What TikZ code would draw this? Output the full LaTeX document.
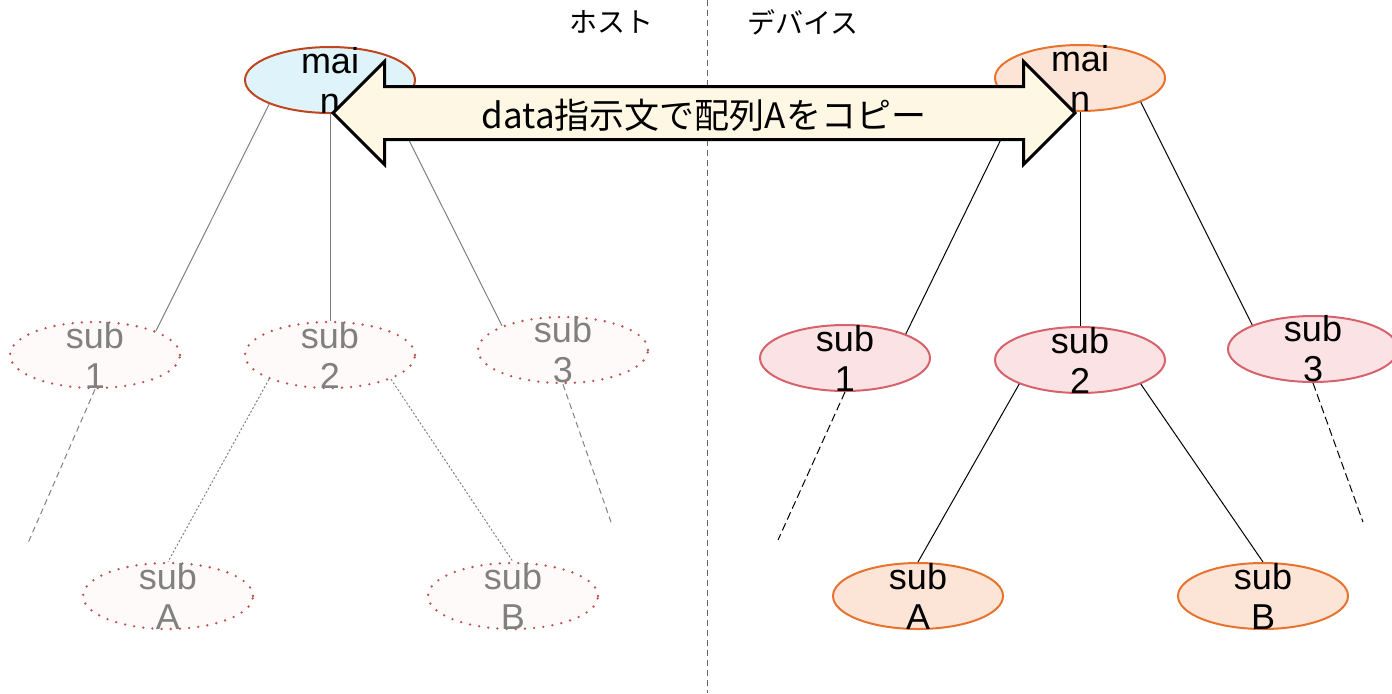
\documentclass[tikz,border=0pt]{standalone}
\usepackage{fontspec}
\setmainfont{Liberation Sans}
\newfontfamily\jpfont{Noto Sans CJK JP}
\usetikzlibrary{shapes.geometric,shapes.arrows}

\definecolor{hostrim}{HTML}{C0441E}
\definecolor{hostfill}{HTML}{DFF3FA}
\definecolor{devrim}{HTML}{E8732E}
\definecolor{devfill}{HTML}{FCE5D6}
\definecolor{subrim}{HTML}{D6636B}
\definecolor{subfill}{HTML}{FBE2E4}
\definecolor{dotrim}{HTML}{C0504D}
\definecolor{copyfill}{HTML}{FEF7E3}

\begin{document}
\begin{tikzpicture}[x=0.5pt,y=-0.5pt,
    bubble/.style={ellipse,minimum width=85pt,minimum height=33pt,inner sep=0pt,line width=1pt},
    txt/.style={align=center,inner sep=0pt,font=\fontsize{18pt}{20pt}\selectfont},
    greytxt/.style={txt,text=black!50},
    hostmain/.style={bubble,draw=hostrim,fill=hostfill},
    devmain/.style={bubble,draw=devrim,fill=devfill},
    devsub/.style={bubble,draw=subrim,fill=subfill},
    devleaf/.style={bubble,draw=devrim,fill=devfill},
    ghost/.style={bubble,draw=dotrim,fill=red!2,line width=1.3pt,dash pattern=on 0pt off 4.6pt,line cap=round},
    ghostlink/.style={black!50,line width=0.5pt},
    devlink/.style={black,line width=0.5pt}
]
\useasboundingbox (0,0) rectangle (1392,693);

% host / device divider
\draw[black!60,dash pattern=on 3pt off 2pt] (707,0) -- (707,693);
\node[font=\jpfont\fontsize{14pt}{16pt}\selectfont] (hostlbl) at (611,22) {ホスト};
\node[font=\jpfont\fontsize{14pt}{16pt}\selectfont] (devlbl) at (803,22) {デバイス};

% host side (not yet on the device)
\node[hostmain,label={[txt]center:mai\\n}] (hmain) at (330,80) {};
\node[ghost,label={[greytxt]center:sub\\1}] (hs1) at (95,355) {};
\node[ghost,label={[greytxt]center:sub\\2}] (hs2) at (330,355) {};
\node[ghost,label={[greytxt]center:sub\\3}] (hs3) at (563,350) {};
\node[ghost,label={[greytxt]center:sub\\A}] (hsA) at (168,596) {};
\node[ghost,label={[greytxt]center:sub\\B}] (hsB) at (513,596) {};
\coordinate (hs1end) at (28,543);
\coordinate (hs3end) at (612,525);

\draw[ghostlink] (hmain.south west) -- (hs1.north east);
\draw[ghostlink] (hmain.south) -- (hs2.north);
\draw[ghostlink] (hmain.south east) -- (hs3.north west);
\draw[ghostlink,dash pattern=on 3pt off 2pt] (hs1.south) -- (hs1end);
\draw[ghostlink,dash pattern=on 1pt off 1pt] (hs2.south west) -- (hsA.north);
\draw[ghostlink,dash pattern=on 1pt off 1pt] (hs2.south east) -- (hsB.north);
\draw[ghostlink,dash pattern=on 3pt off 2pt] (hs3.south) -- (hs3end);

% device side
\node[devmain,label={[txt]center:mai\\n}] (dmain) at (1080,78) {};
\node[devsub,label={[txt]center:sub\\1}] (ds1) at (845,358) {};
\node[devsub,label={[txt]center:sub\\2}] (ds2) at (1080,360) {};
\node[devsub,label={[txt]center:sub\\3}] (ds3) at (1313,349) {};
\node[devleaf,label={[txt]center:sub\\A}] (dsA) at (918,596) {};
\node[devleaf,label={[txt]center:sub\\B}] (dsB) at (1263,596) {};
\coordinate (ds1end) at (778,540);
\coordinate (ds3end) at (1363,522);

\draw[devlink] (dmain.south west) -- (ds1.north east);
\draw[devlink] (dmain.south) -- (ds2.north);
\draw[devlink] (dmain.south east) -- (ds3.north west);
\draw[devlink,dash pattern=on 4pt off 2pt] (ds1.south) -- (ds1end);
\draw[devlink] (ds2.south west) -- (dsA.north);
\draw[devlink] (ds2.south east) -- (dsB.north);
\draw[devlink,dash pattern=on 4pt off 2pt] (ds3.south) -- (ds3end);

% copy of array A between host and device
\node[double arrow,draw=black,line width=1.5pt,fill=copyfill,
      minimum height=371pt,minimum width=50pt,double arrow head extend=12.5pt,
      inner xsep=2pt,inner ysep=0pt,text height=20pt,text depth=5pt,
      font=\jpfont\fontsize{17.5pt}{19pt}\selectfont] (copy) at (704,113)
      {data指示文で配列Aをコピー};
\end{tikzpicture}
\end{document}
